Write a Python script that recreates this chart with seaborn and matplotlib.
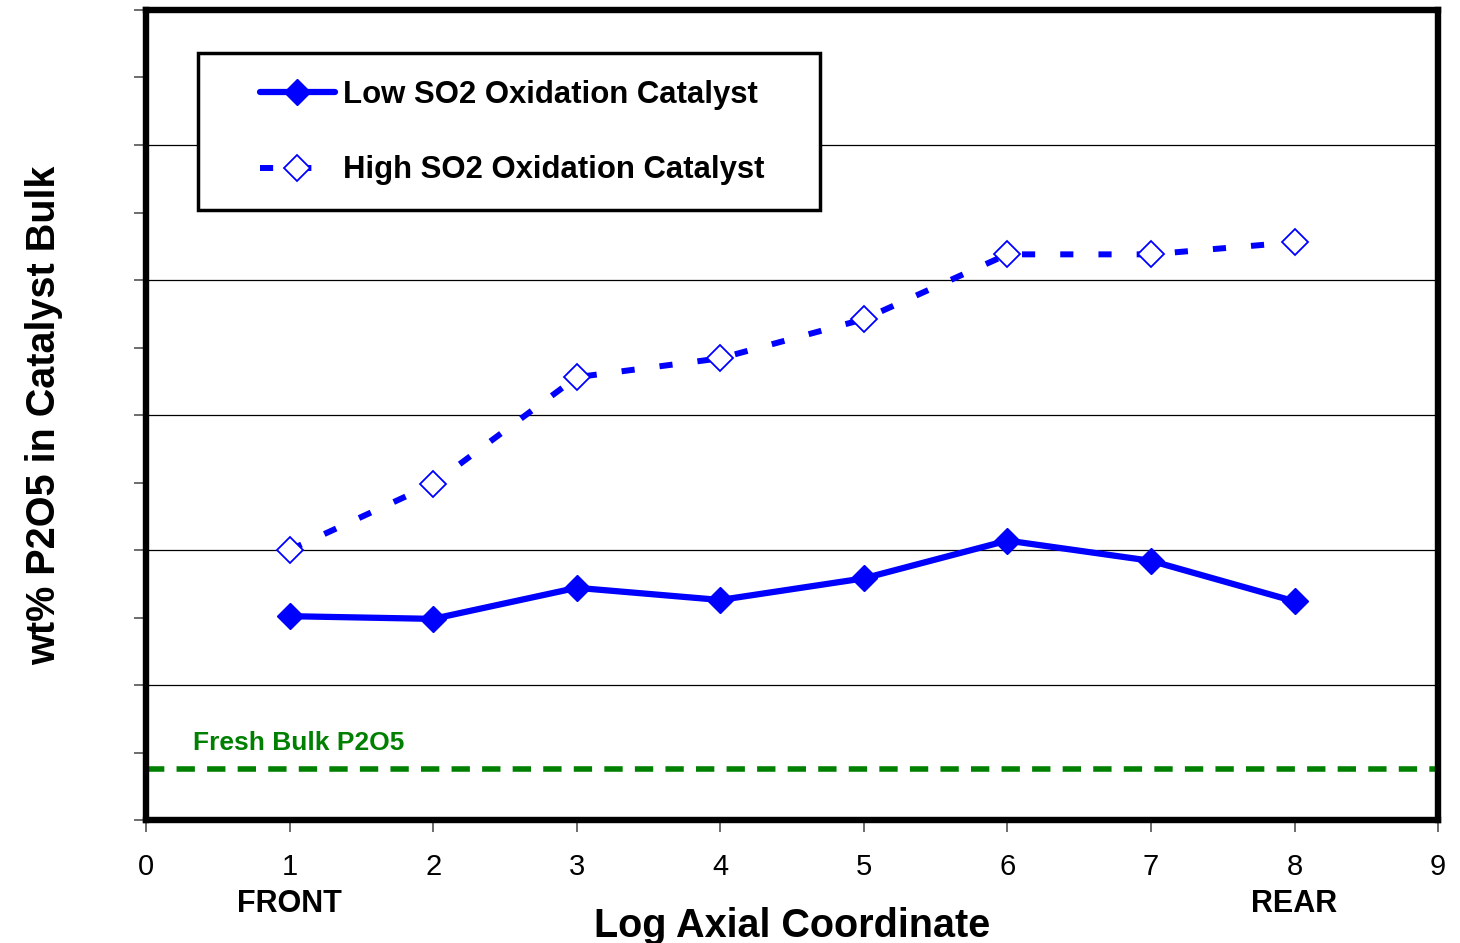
import matplotlib
matplotlib.use("Agg")

import matplotlib.pyplot as plt
import seaborn as sns
import pandas as pd
from matplotlib.ticker import MultipleLocator
from matplotlib.patches import Rectangle


# Data
axial_coord = [1, 2, 3, 4, 5, 6, 7, 8]
low_so2 = [1.51, 1.49, 1.72, 1.63, 1.79, 2.07, 1.92, 1.62]
high_so2 = [2.00, 2.49, 3.28, 3.42, 3.71, 4.19, 4.19, 4.28]
fresh_bulk = 0.38

x_ticks = [0, 1, 2, 3, 4, 5, 6, 7, 8, 9]

low_label = "Low SO2 Oxidation Catalyst"
high_label = "High SO2 Oxidation Catalyst"

df_low = pd.DataFrame({"x": axial_coord, "y": low_so2})
df_high = pd.DataFrame({"x": axial_coord, "y": high_so2})


# Style
sns.set_style("ticks")
plt.rcParams["font.family"] = ["Liberation Sans", "DejaVu Sans"]
plt.rcParams["text.color"] = "black"
plt.rcParams["axes.labelcolor"] = "black"
plt.rcParams["xtick.color"] = "black"
plt.rcParams["ytick.color"] = "black"

fig = plt.figure(figsize=(14.6, 9.43), dpi=100)
ax = fig.add_axes([0.1, 0.1304, 0.885, 0.859])


# Lines
sns.lineplot(
    data=df_low,
    x="x",
    y="y",
    ax=ax,
    color="blue",
    linewidth=4.5,
    marker="D",
    markersize=13.5,
    markerfacecolor="blue",
    markeredgecolor="blue",
    markeredgewidth=1,
    errorbar=None,
    label=low_label
)

sns.lineplot(
    data=df_high,
    x="x",
    y="y",
    ax=ax,
    color="blue",
    linewidth=4.3,
    linestyle=(0, (2.2, 4.2)),
    dash_capstyle="butt",
    marker="D",
    markersize=13.5,
    markerfacecolor="white",
    markeredgecolor="blue",
    markeredgewidth=1.3,
    errorbar=None,
    label=high_label
)

ax.axhline(
    fresh_bulk,
    color="#008000",
    linewidth=4,
    linestyle=(0, (3.3, 2.2)),
    dash_capstyle="butt"
)

ax.text(
    0.33, 0.52, "Fresh Bulk P2O5",
    color="#008000", fontsize=19, fontweight="bold",
    ha="left", va="baseline"
)


# Axes
ax.set_xlim(0, 9)
ax.set_ylim(0, 6)
ax.set_xticks(x_ticks)
ax.yaxis.set_major_locator(MultipleLocator(1))
ax.yaxis.set_minor_locator(MultipleLocator(0.5))

ax.tick_params(
    axis="both", which="both", direction="out",
    length=8.6, width=1.1, color="#444444"
)
ax.tick_params(axis="y", which="both", left=True, labelleft=False)
ax.tick_params(axis="x", labelsize=21, pad=15, labelcolor="black")

ax.yaxis.grid(True, which="major", color="black", linewidth=0.9)
ax.set_axisbelow(True)

for spine in ax.spines.values():
    spine.set_visible(True)
    spine.set_linewidth(4.6)
    spine.set_color("black")

ax.set_xlabel("Log Axial Coordinate", fontsize=28.5, fontweight="bold")
ax.set_ylabel("wt% P2O5 in Catalyst Bulk", fontsize=28.5, fontweight="bold")
ax.xaxis.set_label_coords(0.5, -0.1075)
ax.yaxis.set_label_coords(-0.064, 0.5)

trans = ax.get_xaxis_transform()
ax.text(1, -0.1136, "FRONT", transform=trans, fontsize=22,
        fontweight="bold", ha="center", va="baseline")
ax.text(8, -0.1136, "REAR", transform=trans, fontsize=22,
        fontweight="bold", ha="center", va="baseline")


# Legend
box = Rectangle(
    (0.0402, 0.7531), 0.4815, 0.1938,
    transform=ax.transAxes,
    facecolor="white", edgecolor="black",
    linewidth=2.5, zorder=4
)
ax.add_patch(box)

ax.legend(
    loc="upper left",
    bbox_to_anchor=(0.0882, 0.9136),
    frameon=False,
    borderpad=0,
    borderaxespad=0,
    prop={"weight": "bold", "size": 22.4},
    handlelength=2.41,
    handletextpad=0.26,
    labelspacing=1.46
).set_zorder(5)


plt.savefig("out.png", dpi=100)

plt.close()
